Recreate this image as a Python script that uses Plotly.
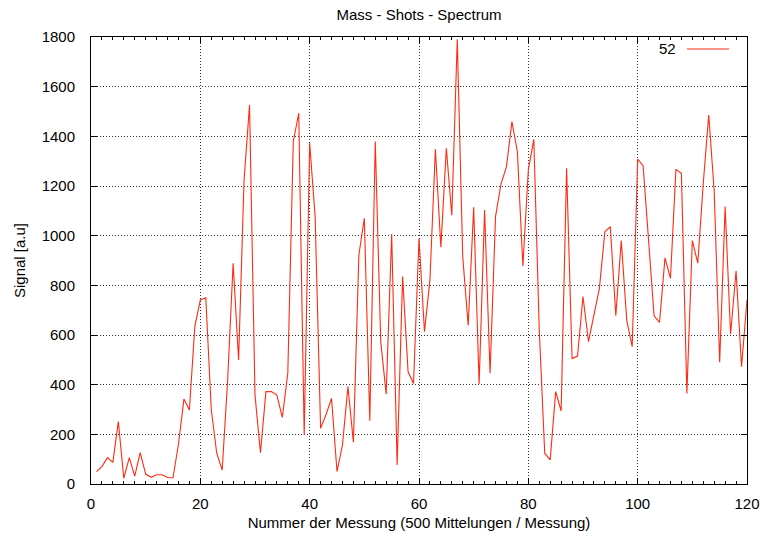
import plotly.graph_objects as go

x_values = list(range(1, 121))
signal = [
    50, 70, 106, 87, 251, 23, 106, 32, 126, 40,
    27, 37, 37, 26, 25, 160, 342, 298, 636, 741,
    750, 300, 124, 56, 420, 889, 499, 1224, 1526, 358,
    126, 372, 372, 358, 268, 446, 1379, 1493, 197, 1372,
    1077, 224, 280, 345, 50, 157, 392, 168, 922, 1070,
    255, 1379, 573, 362, 1007, 77, 835, 452, 405, 989,
    613, 822, 1348, 953, 1352, 1082, 1791, 915, 638, 1114,
    403, 1103, 446, 1077, 1208, 1278, 1459, 1338, 878, 1265,
    1388, 620, 124, 97, 372, 294, 1271, 505, 515, 755,
    573, 680, 788, 1016, 1036, 678, 980, 660, 553, 1308,
    1281, 980, 677, 651, 911, 828, 1267, 1251, 365, 980,
    889, 1211, 1486, 1180, 490, 1117, 604, 859, 472, 741,
]
series_name = "52"
x_ticks = [0, 20, 40, 60, 80, 100, 120]
y_ticks = list(range(0, 1801, 200))

LINE = "#ff2a12"
FONT = "Liberation Sans, Arial, Helvetica, sans-serif"

fig = go.Figure()
fig.add_trace(go.Scatter(x=x_values, y=signal, mode="lines", name=series_name,
                         line=dict(color=LINE, width=1.1), showlegend=False))

axis_common = dict(showline=True, linecolor="black", linewidth=1, mirror="ticks",
                   ticks="inside", ticklen=6, tickcolor="black", tickwidth=1,
                   showgrid=True, gridcolor="#333", griddash="1px,2px", gridwidth=1,
                   zeroline=False, automargin=False,
                   tickfont=dict(size=15, color="black", family=FONT))

fig.update_xaxes(range=[0, 120], tickvals=x_ticks, **axis_common, ticklabelstandoff=6,
                 minor=dict(dtick=2, ticks="inside", ticklen=3, tickcolor="black", showgrid=False),
                 title=dict(text="Nummer der Messung (500 Mittelungen / Messung)",
                            font=dict(size=15, color="black", family=FONT), standoff=6))
fig.update_yaxes(range=[0, 1800], tickvals=y_ticks, **axis_common, ticklabelstandoff=12,
                 title=dict(text="Signal [a.u]", font=dict(size=15, color="black", family=FONT),
                            standoff=12))

fig.update_layout(
    width=763, height=533,
    margin=dict(l=91, r=16, t=37, b=49),
    paper_bgcolor="white", plot_bgcolor="white",
    font=dict(family=FONT, color="black"),
    title=dict(text="Mass - Shots - Spectrum", x=(419) / 763, xanchor="center", y=1 - 15 / 533,
               yanchor="middle", font=dict(size=15, color="black", family=FONT)),
    annotations=[dict(text=series_name, xref="paper", yref="paper", x=(678 - 91) / 656,
                      y=1 - (49 - 37) / 447, xanchor="right", yanchor="middle", showarrow=False,
                      font=dict(size=15, color="black", family=FONT))],
    shapes=[dict(type="line", xref="paper", yref="paper", x0=(687 - 91) / 656, x1=(729 - 91) / 656,
                 y0=1 - (49 - 37) / 447, y1=1 - (49 - 37) / 447, line=dict(color=LINE, width=1.1))],
)

fig.write_html("out.html")
